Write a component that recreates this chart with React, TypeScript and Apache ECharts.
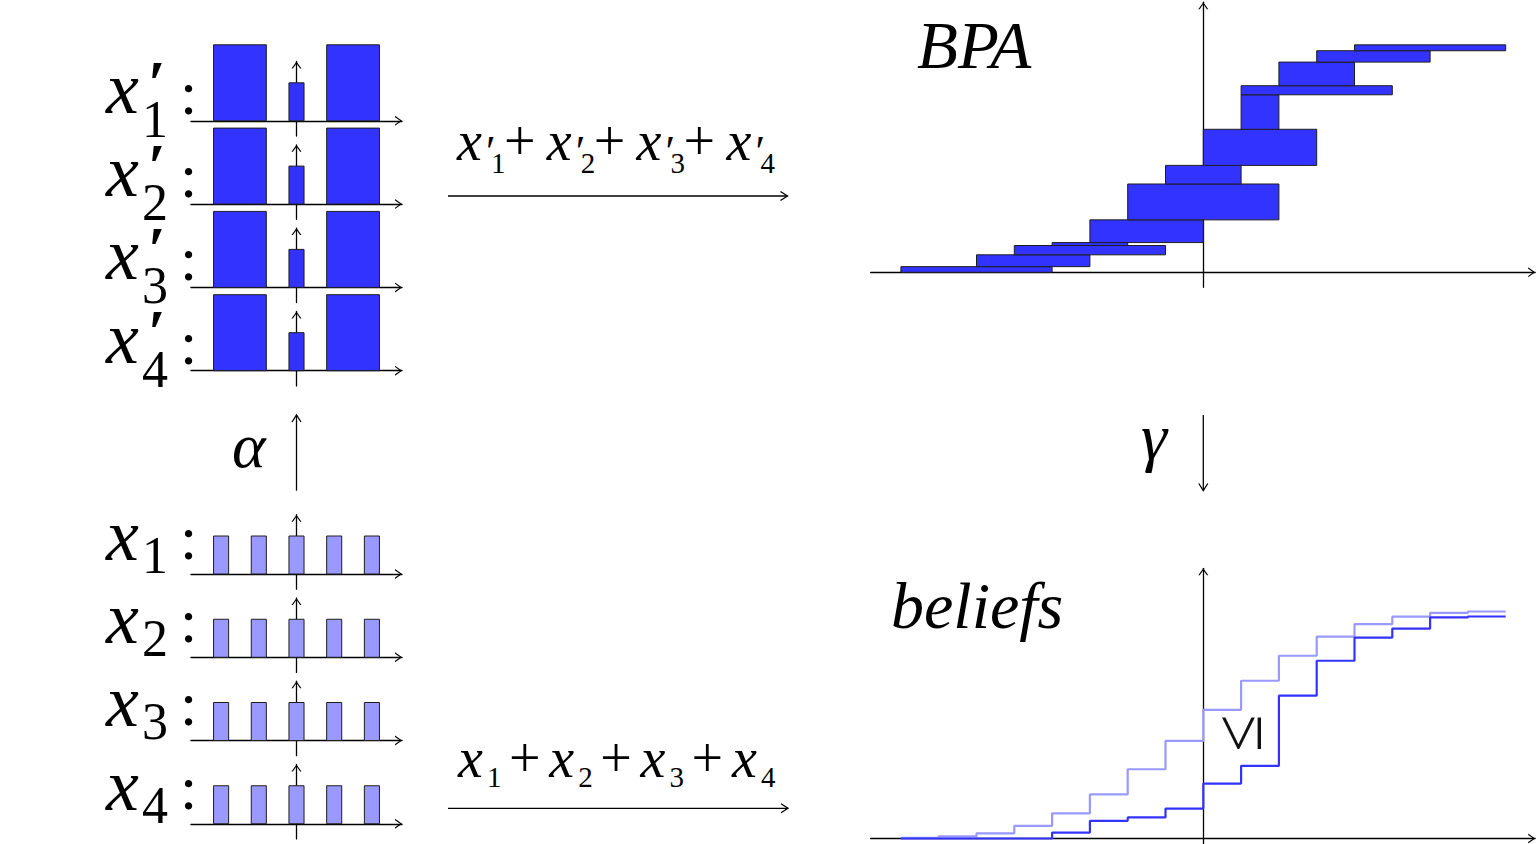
import React, { useEffect, useRef } from 'react';
import * as echarts from 'echarts';

// ---------------- data ----------------
// discrete variables x_i : mass on the integers -2..2
const baseLevels = [-2, -1, 0, 1, 2];
const baseMass = [0.5, 0.5, 0.5, 0.5, 0.5];
// abstracted variables x'_i : focal intervals and their heights
const primeLo = [-2, 0, 1];
const primeHi = [-1, 0, 2];
const primeMass = [1, 0.5, 1];
// BPA of x'_1+x'_2+x'_3+x'_4 : focal intervals with masses (stacked)
const bpaLo = [-8, -6, -5, -4, -3, -2, -1, 0, 1, 1, 2, 3, 4];
const bpaHi = [-4, -3, -1, -2, 0, 2, 1, 3, 2, 5, 4, 6, 8];
const bpaMass = [0.025, 0.052, 0.041, 0.013, 0.1, 0.158, 0.082, 0.159, 0.152, 0.04, 0.104, 0.05, 0.026];
// belief step curves (value on [x, x+1))
const stepX = [-8, -7, -6, -5, -4, -3, -2, -1, 0, 1, 2, 3, 4, 5, 6, 7, 8];
const upperCurve = [0.003, 0.009, 0.023, 0.056, 0.111, 0.194, 0.305, 0.43, 0.567, 0.695, 0.805, 0.889, 0.944, 0.977, 0.994, 1.0];
const lowerCurve = [0, 0, 0, 0, 0.026, 0.078, 0.093, 0.132, 0.242, 0.32, 0.629, 0.783, 0.885, 0.925, 0.974, 0.978];
const rowIndices = ['1', '2', '3', '4'];

// ---------------- styles / layout ----------------
const DARK = '#3333ff';
const LIGHT = '#9999ff';
const EDGE = '#1e1e1e';
const BAR_HALF = 0.2;
const ARROW = 'path://M0,7L5,0L10,7L8.6,7L5,1.9L1.4,7Z';
const SERIF = 'Liberation Serif';

const topAxisY = [0, 1, 2, 3].map((k) => 120.8 + 83.3 * k);
const botAxisY = [0, 1, 2, 3].map((k) => 574 + 83.25 * k);

const SMALL_UNIT_Y = 76;
const SMALL_YMIN = -0.2;
const SMALL_YMAX = 0.78;
const BIG_UNIT_X = 37.8;
const BIG_UNIT_Y = 227;
const BIG_ZERO_X = 1203.3;
const BIG_XMIN = -8.8;
const BIG_XMAX = 8.78;

function axisLineStyle() {
  return {
    show: true,
    onZero: true,
    lineStyle: { color: '#000', width: 1.3 },
    symbol: ['none', ARROW],
    symbolSize: [10, 7],
    symbolOffset: [0, -3.5],
  };
}

function valueAxis(gridIndex: number, min: number, max: number) {
  return {
    type: 'value',
    gridIndex,
    min,
    max,
    axisLine: axisLineStyle(),
    axisTick: { show: false },
    axisLabel: { show: false },
    splitLine: { show: false },
  };
}

function rectRenderer(fill: string) {
  return (params: any, api: any) => {
    const a = api.coord([api.value(0), api.value(2)]);
    const b = api.coord([api.value(1), api.value(3)]);
    return {
      type: 'rect',
      shape: { x: a[0], y: b[1], width: b[0] - a[0], height: a[1] - b[1] },
      style: { fill, stroke: EDGE, lineWidth: 1 },
    };
  };
}

// text placed by its baseline
function txt(text: string, x: number, baseline: number, size: number, opts: any = {}) {
  const style: any = {
    text,
    fontFamily: opts.family || SERIF,
    fontSize: size,
    fill: '#000',
  };
  if (opts.italic) style.fontStyle = 'italic';
  if (opts.weight) style.fontWeight = opts.weight;
  return {
    type: 'text',
    x,
    y: baseline - 0.34 * size,
    style: { ...style, textVerticalAlign: 'middle' },
  };
}

function arrowH(x1: number, x2: number, y: number) {
  return [
    { type: 'line', silent: true, shape: { x1, y1: y, x2, y2: y }, style: { stroke: '#000', lineWidth: 1.3 } },
    {
      type: 'polyline', silent: true,
      shape: { points: [[x2 - 7, y - 4.5], [x2, y], [x2 - 7, y + 4.5]] },
      style: { stroke: '#000', lineWidth: 1.3, fill: 'none' },
    },
  ];
}

function arrowV(x: number, yFrom: number, yTo: number) {
  const d = yTo < yFrom ? 1 : -1;
  return [
    { type: 'line', silent: true, shape: { x1: x, y1: yFrom, x2: x, y2: yTo }, style: { stroke: '#000', lineWidth: 1.3 } },
    {
      type: 'polyline', silent: true,
      shape: { points: [[x - 4.5, yTo + 7 * d], [x, yTo], [x + 4.5, yTo + 7 * d]] },
      style: { stroke: '#000', lineWidth: 1.3, fill: 'none' },
    },
  ];
}

function buildOption() {
  const grids: any[] = [];
  const xAxes: any[] = [];
  const yAxes: any[] = [];
  const series: any[] = [];

  const smallLeft = 296.5 - 2.8 * 37.7;
  const smallWidth = 5.6 * 37.7;

  const primeData = primeLo.map((lo, j) => [lo - BAR_HALF, primeHi[j] + BAR_HALF, 0, primeMass[j]]);
  const baseData = baseLevels.map((v, j) => [v - BAR_HALF, v + BAR_HALF, 0, baseMass[j]]);

  const addSmall = (axisY: number, data: number[][], fill: string) => {
    const gi = grids.length;
    grids.push({
      left: smallLeft,
      width: smallWidth,
      top: axisY - SMALL_YMAX * SMALL_UNIT_Y,
      height: (SMALL_YMAX - SMALL_YMIN) * SMALL_UNIT_Y,
      outerBoundsMode: 'none',
    });
    xAxes.push(valueAxis(gi, -2.8, 2.8));
    yAxes.push(valueAxis(gi, SMALL_YMIN, SMALL_YMAX));
    series.push({
      type: 'custom',
      xAxisIndex: gi,
      yAxisIndex: gi,
      clip: false,
      renderItem: rectRenderer(fill),
      encode: { x: [0, 1], y: [2, 3] },
      data,
    });
  };

  topAxisY.forEach((y) => addSmall(y, primeData, DARK));
  botAxisY.forEach((y) => addSmall(y, baseData, LIGHT));

  const bigLeft = BIG_ZERO_X + BIG_XMIN * BIG_UNIT_X;
  const bigWidth = (BIG_XMAX - BIG_XMIN) * BIG_UNIT_X;

  // BPA panel
  const bpaAxisY = 272.3;
  const bpaYMin = -0.066;
  const bpaYMax = 1.19;
  const gBpa = grids.length;
  grids.push({
    left: bigLeft,
    width: bigWidth,
    top: bpaAxisY - bpaYMax * BIG_UNIT_Y,
    height: (bpaYMax - bpaYMin) * BIG_UNIT_Y,
    outerBoundsMode: 'none',
  });
  xAxes.push(valueAxis(gBpa, BIG_XMIN, BIG_XMAX));
  yAxes.push(valueAxis(gBpa, bpaYMin, bpaYMax));
  let acc = 0;
  const bpaData = bpaMass.map((m, j) => {
    const row = [bpaLo[j], bpaHi[j], acc, acc + m];
    acc += m;
    return row;
  });
  series.push({
    type: 'custom',
    xAxisIndex: gBpa,
    yAxisIndex: gBpa,
    clip: false,
    renderItem: rectRenderer(DARK),
    encode: { x: [0, 1], y: [2, 3] },
    data: bpaData,
  });

  // beliefs panel
  const belAxisY = 838.5;
  const belYMin = -0.024;
  const belYMax = 1.19;
  const gBel = grids.length;
  grids.push({
    left: bigLeft,
    width: bigWidth,
    top: belAxisY - belYMax * BIG_UNIT_Y,
    height: (belYMax - belYMin) * BIG_UNIT_Y,
    outerBoundsMode: 'none',
  });
  xAxes.push(valueAxis(gBel, BIG_XMIN, BIG_XMAX));
  yAxes.push(valueAxis(gBel, belYMin, belYMax));
  const stepData = (curve: number[]) => stepX.map((x, i) => [x, curve[Math.min(i, curve.length - 1)]]);
  series.push({
    type: 'line',
    xAxisIndex: gBel,
    yAxisIndex: gBel,
    step: 'end',
    showSymbol: false,
    lineStyle: { color: LIGHT, width: 2.2 },
    itemStyle: { color: LIGHT },
    data: stepData(upperCurve),
  });
  series.push({
    type: 'line',
    xAxisIndex: gBel,
    yAxisIndex: gBel,
    step: 'end',
    showSymbol: false,
    lineStyle: { color: DARK, width: 2.2 },
    itemStyle: { color: DARK },
    data: stepData(lowerCurve),
  });

  // ---------- text & decorations ----------
  const g: any[] = [];
  topAxisY.forEach((A, k) => {
    g.push(txt('x', 106, A - 8, 74, { italic: true }));
    g.push(txt('′', 148, A - 16, 64, { weight: 'bold' }));
    g.push(txt(rowIndices[k], 142, A + 16, 52));
    g.push(txt(':', 180, A - 7, 62));
  });
  botAxisY.forEach((A, k) => {
    g.push(txt('x', 106, A - 14, 74, { italic: true }));
    g.push(txt(rowIndices[k], 142, A - 1, 52));
    g.push(txt(':', 180, A - 15, 62));
  });

  // formula over the top arrow
  rowIndices.forEach((s, i) => {
    const x0 = 457 + 89.8 * i;
    g.push(txt('x', x0, 160, 56, { italic: true }));
    g.push(txt('′', x0 + 29, 166, 44));
    g.push(txt(s, x0 + 34, 173, 29));
    if (i < 3) g.push(txt('+', x0 + 47, 160, 56));
  });
  g.push(...arrowH(448, 787.5, 196));

  // formula over the bottom arrow
  rowIndices.forEach((s, i) => {
    const x0 = 458 + 91.3 * i;
    g.push(txt('x', x0, 777, 56, { italic: true }));
    g.push(txt(s, x0 + 29, 787, 29));
    if (i < 3) g.push(txt('+', x0 + 51, 777, 56));
  });
  g.push(...arrowH(448, 788, 808.3));

  // alpha / gamma arrows
  g.push(txt('α', 232, 467, 64, { italic: true }));
  g.push(...arrowV(296.5, 490.7, 415));
  g.push(txt('γ', 1141, 459, 66, { italic: true }));
  g.push(...arrowV(1203.3, 415, 490.5));

  // panel titles
  g.push(txt('BPA', 917, 68, 67, { italic: true }));
  g.push(txt('beliefs', 891, 628, 66, { italic: true }));

  // rotated ≤ between the curves
  g.push({
    type: 'text',
    x: 1234,
    y: 733.3,
    rotation: Math.PI / 2,
    style: {
      text: '≤',
      fontFamily: 'Noto Sans',
      fontSize: 68,
      fontWeight: 200,
      fill: '#111',
      textAlign: 'center',
      textVerticalAlign: 'middle',
    },
  });

  return {
    animation: false,
    backgroundColor: '#fff',
    grid: grids,
    xAxis: xAxes,
    yAxis: yAxes,
    series,
    graphic: { elements: g },
  };
}

export default function App() {
  const ref = useRef<HTMLDivElement>(null);
  useEffect(() => {
    if (!ref.current) return;
    const chart = echarts.init(ref.current, undefined, { renderer: 'svg' });
    chart.setOption(buildOption() as any);
    return () => chart.dispose();
  }, []);
  return (
    <div
      ref={ref}
      style={{ position: 'fixed', left: 0, top: 0, width: 1536, height: 844, background: '#fff' }}
    />
  );
}
